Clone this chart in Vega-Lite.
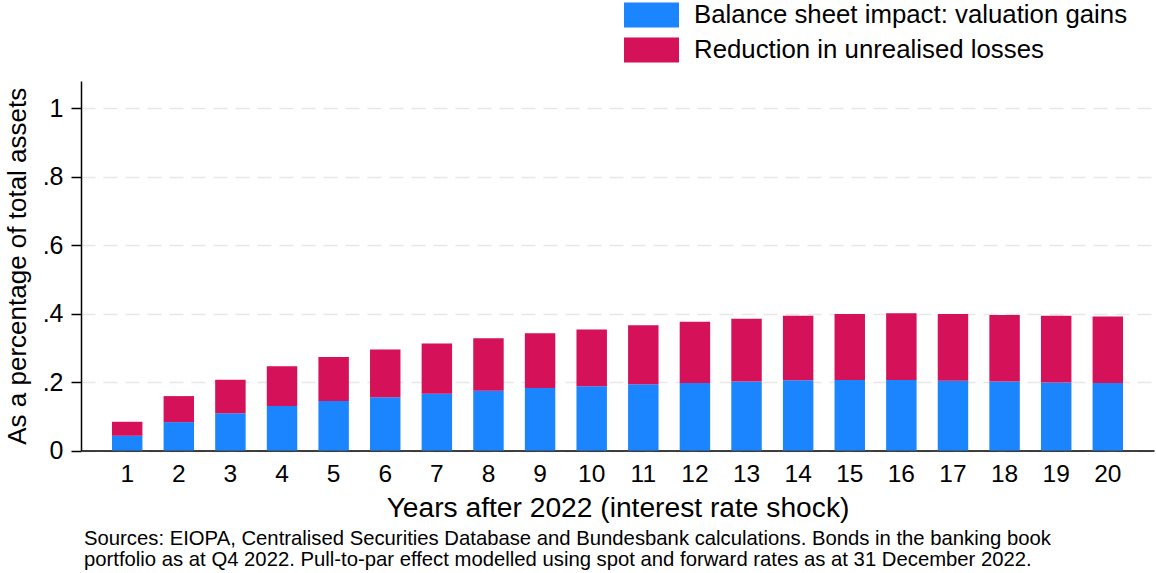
{
"$schema": "https://vega.github.io/schema/vega-lite/v6.json",
"width": 1073,
"height": 369.5,
"autosize": {"type": "none"},
"padding": {"left": 81, "top": 81, "right": 2, "bottom": 122.5},
"background": "white",
"config": {"font": "Liberation Sans", "view": {"stroke": null}},
"title": {
  "text": ["Sources: EIOPA, Centralised Securities Database and Bundesbank calculations. Bonds in the banking book", "portfolio as at Q4 2022. Pull-to-par effect modelled using spot and forward rates as at 31 December 2022."],
  "orient": "bottom", "anchor": "start", "frame": "group", "fontSize": 20.3, "fontWeight": "normal", "color": "black", "offset": 7, "baseline": "top", "lineHeight": 21, "dx": 3
},
"data": {"values": [
  {"year": 1, "series": "Balance sheet impact: valuation gains", "k": 1, "value": 0.043},
  {"year": 2, "series": "Balance sheet impact: valuation gains", "k": 1, "value": 0.083},
  {"year": 3, "series": "Balance sheet impact: valuation gains", "k": 1, "value": 0.109},
  {"year": 4, "series": "Balance sheet impact: valuation gains", "k": 1, "value": 0.130},
  {"year": 5, "series": "Balance sheet impact: valuation gains", "k": 1, "value": 0.145},
  {"year": 6, "series": "Balance sheet impact: valuation gains", "k": 1, "value": 0.156},
  {"year": 7, "series": "Balance sheet impact: valuation gains", "k": 1, "value": 0.166},
  {"year": 8, "series": "Balance sheet impact: valuation gains", "k": 1, "value": 0.175},
  {"year": 9, "series": "Balance sheet impact: valuation gains", "k": 1, "value": 0.183},
  {"year": 10, "series": "Balance sheet impact: valuation gains", "k": 1, "value": 0.188},
  {"year": 11, "series": "Balance sheet impact: valuation gains", "k": 1, "value": 0.194},
  {"year": 12, "series": "Balance sheet impact: valuation gains", "k": 1, "value": 0.197},
  {"year": 13, "series": "Balance sheet impact: valuation gains", "k": 1, "value": 0.202},
  {"year": 14, "series": "Balance sheet impact: valuation gains", "k": 1, "value": 0.205},
  {"year": 15, "series": "Balance sheet impact: valuation gains", "k": 1, "value": 0.206},
  {"year": 16, "series": "Balance sheet impact: valuation gains", "k": 1, "value": 0.206},
  {"year": 17, "series": "Balance sheet impact: valuation gains", "k": 1, "value": 0.204},
  {"year": 18, "series": "Balance sheet impact: valuation gains", "k": 1, "value": 0.202},
  {"year": 19, "series": "Balance sheet impact: valuation gains", "k": 1, "value": 0.199},
  {"year": 20, "series": "Balance sheet impact: valuation gains", "k": 1, "value": 0.197},
  {"year": 1, "series": "Reduction in unrealised losses", "k": 2, "value": 0.041},
  {"year": 2, "series": "Reduction in unrealised losses", "k": 2, "value": 0.076},
  {"year": 3, "series": "Reduction in unrealised losses", "k": 2, "value": 0.098},
  {"year": 4, "series": "Reduction in unrealised losses", "k": 2, "value": 0.116},
  {"year": 5, "series": "Reduction in unrealised losses", "k": 2, "value": 0.128},
  {"year": 6, "series": "Reduction in unrealised losses", "k": 2, "value": 0.139},
  {"year": 7, "series": "Reduction in unrealised losses", "k": 2, "value": 0.147},
  {"year": 8, "series": "Reduction in unrealised losses", "k": 2, "value": 0.153},
  {"year": 9, "series": "Reduction in unrealised losses", "k": 2, "value": 0.160},
  {"year": 10, "series": "Reduction in unrealised losses", "k": 2, "value": 0.166},
  {"year": 11, "series": "Reduction in unrealised losses", "k": 2, "value": 0.172},
  {"year": 12, "series": "Reduction in unrealised losses", "k": 2, "value": 0.179},
  {"year": 13, "series": "Reduction in unrealised losses", "k": 2, "value": 0.183},
  {"year": 14, "series": "Reduction in unrealised losses", "k": 2, "value": 0.189},
  {"year": 15, "series": "Reduction in unrealised losses", "k": 2, "value": 0.193},
  {"year": 16, "series": "Reduction in unrealised losses", "k": 2, "value": 0.195},
  {"year": 17, "series": "Reduction in unrealised losses", "k": 2, "value": 0.195},
  {"year": 18, "series": "Reduction in unrealised losses", "k": 2, "value": 0.194},
  {"year": 19, "series": "Reduction in unrealised losses", "k": 2, "value": 0.195},
  {"year": 20, "series": "Reduction in unrealised losses", "k": 2, "value": 0.195}
]},
"mark": {"type": "bar"},
"encoding": {
  "x": {
    "field": "year", "type": "ordinal",
    "scale": {"paddingInner": 0.41, "paddingOuter": 0.6},
    "axis": {
      "labelAngle": 0, "labelFontSize": 24.5, "labelColor": "black", "ticks": false, "labelPadding": 12,
      "domainColor": "black", "domainWidth": 1.5, "grid": false,
      "title": "Years after 2022 (interest rate shock)", "titleFontSize": 28.2, "titleFontWeight": "normal", "titleColor": "black",
      "titleY": 66, "titleBaseline": "alphabetic"
    }
  },
  "y": {
    "field": "value", "type": "quantitative", "stack": "zero",
    "scale": {"domain": [0, 1.08], "nice": false},
    "axis": {
      "values": [0, 0.2, 0.4, 0.6, 0.8, 1],
      "labelExpr": "datum.value == 0 ? '0' : datum.value == 1 ? '1' : replace(format(datum.value, '.1f'), '0.', '.')",
      "labelFontSize": 25, "labelColor": "black", "labelPadding": 8,
      "tickSize": 10, "tickColor": "black", "tickWidth": 1.5,
      "domainColor": "black", "domainWidth": 1.5,
      "grid": true, "gridColor": "#e8e8e8", "gridDash": [14, 8], "gridWidth": 1.5,
      "title": "As a percentage of total assets", "titleFontSize": 26, "titleFontWeight": "normal", "titleColor": "black",
      "titleX": -56, "titleBaseline": "alphabetic"
    }
  },
  "color": {
    "field": "series", "type": "nominal",
    "scale": {"domain": ["Balance sheet impact: valuation gains", "Reduction in unrealised losses"], "range": ["#1A85FF", "#D41159"]},
    "legend": {
      "title": null, "orient": "none", "legendX": 553, "legendY": -83.5,
      "symbolType": "M-1.5714,-0.7143H1.5714V0.7143H-1.5714Z", "symbolSize": 1225, "symbolStrokeWidth": 0, "symbolOpacity": 1,
      "labelFontSize": 25.8, "labelColor": "black", "labelOffset": 25, "labelLimit": 600, "rowPadding": 4
    }
  },
  "order": {"field": "k", "type": "quantitative"}
}
}
